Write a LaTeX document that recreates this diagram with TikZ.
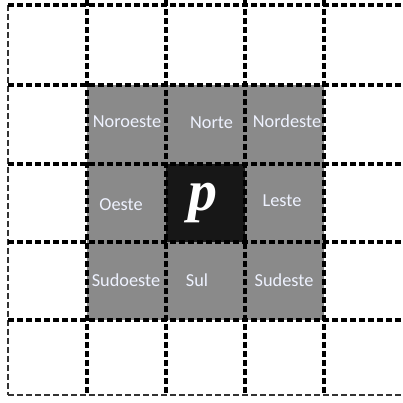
\documentclass[tikz,border=0pt]{standalone}
\usepackage{fontspec}
\setmainfont{Carlito}
\newfontfamily\pfont{Liberation Serif}
\definecolor{cellgray}{HTML}{8A8A8A}
\definecolor{cellblack}{HTML}{171717}
\definecolor{labelcol}{HTML}{EEF2FF}
\begin{document}
\begin{tikzpicture}[x=1pt,y=1pt,
  gridline/.style={line width=3.2pt,dash pattern=on 6pt off 3pt,black},
  thinline/.style={line width=1.6pt,dash pattern=on 6pt off 3pt,black!80},
  lbl/.style={anchor=base,inner sep=0pt,text=labelcol,font=\fontsize{18.3}{21}\selectfont}]
\useasboundingbox (0,0) rectangle (402,403);
\fill[white] (0,0) rectangle (402,403);
% gray neighbourhood
\fill[cellgray] (87,318) rectangle (324,83);
% central pixel
\fill[cellblack] (166,239) rectangle (245,161);
% grid lines
\draw[thinline] (8,398) -- (8,8);
\foreach \x in {87,166,245,324} \draw[gridline] (\x,403) -- (\x,8);
\foreach \y in {398,318,239,161,83} \draw[gridline] (8,\y) -- (402,\y);
\draw[thinline] (8,8) -- (402,8);
% labels
\node[lbl] (no) at (127,275) {Noroeste};
\node[lbl] (n)  at (211.5,274.5) {Norte};
\node[lbl] (ne) at (287,275) {Nordeste};
\node[lbl] (o)  at (121,192) {Oeste};
\node[lbl] (l)  at (282,196) {Leste};
\node[lbl] (so) at (126,116) {Sudoeste};
\node[lbl] (s)  at (197,116) {Sul};
\node[lbl] (se) at (284,116) {Sudeste};
\node[inner sep=0pt,text=white,font=\pfont\bfseries\itshape\fontsize{58}{64}\selectfont] (p) at (203,199.5) {p};
\end{tikzpicture}
\end{document}
